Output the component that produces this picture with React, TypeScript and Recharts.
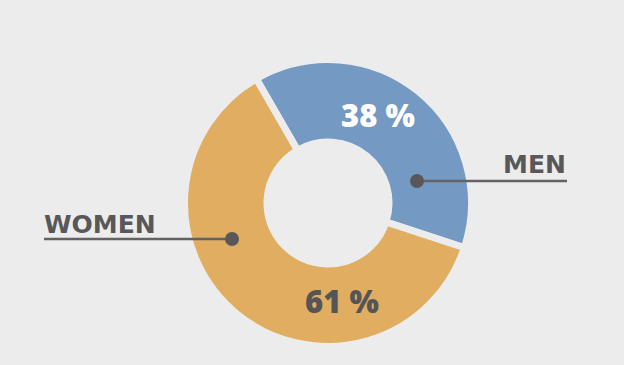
import { Cell, Pie, PieChart } from "recharts";

const categories = ["MEN", "WOMEN"];
const shares = [38, 61];
const sliceColors = ["#7499c2", "#e1ad60"];
const shareColors = ["#ffffff", "#555557"];

const BG = "#ececec";
const INK = "#58585a";

// label offsets from the pie centre, one entry per slice
const labelLayout = [
  { share: [50, -76], dot: [89, -22], lineTo: 239, name: [238, -30], anchor: "end" },
  { share: [14, 110], dot: [-96, 36], lineTo: -284, name: [-284, 30], anchor: "start" },
];

const data = categories.map((name, i) => ({ name, value: shares[i] }));

const renderLabel = (props: any) => {
  const { cx, cy, index } = props;
  const l = labelLayout[index];
  const d = data[index];
  return (
    <g>
      <text x={ cx + l.share[0] } y={ cy + l.share[1] } textAnchor="middle" fill={ shareColors[index] }
            fontFamily="'Open Sans', sans-serif" fontWeight={ 800 } fontSize={ 31 }>
        { d.value } %
      </text>
      <line x1={ cx + l.dot[0] } y1={ cy + l.dot[1] } x2={ cx + l.lineTo } y2={ cy + l.dot[1] }
            stroke="#626264" strokeWidth={ 2.5 }/>
      <circle cx={ cx + l.dot[0] } cy={ cy + l.dot[1] } r={ 7 } fill={ INK }/>
      <text x={ cx + l.name[0] } y={ cy + l.name[1] } textAnchor={ l.anchor as any } fill={ INK }
            fontFamily="'DejaVu Sans', sans-serif" fontWeight={ 700 } fontSize={ 25 }>
        { d.name }
      </text>
    </g>
  );
};

const App = () => (
  <div style={ { position: "absolute", left: 0, top: 0, width: 624, height: 365, background: BG } }>
    <PieChart width={ 624 } height={ 365 } margin={ { top: 0, right: 0, bottom: 0, left: 0 } }>
      <Pie data={ data } dataKey="value" nameKey="name" cx={ 328 } cy={ 203 }
           innerRadius={ 61 } outerRadius={ 143.5 } startAngle={ 120 } endAngle={ -240 }
           stroke={ BG } strokeWidth={ 7 } label={ renderLabel } labelLine={ false }
           isAnimationActive={ false }>
        { data.map((e, i) => <Cell key={ e.name } fill={ sliceColors[i] }/>) }
      </Pie>
    </PieChart>
  </div>
);

export default App;
